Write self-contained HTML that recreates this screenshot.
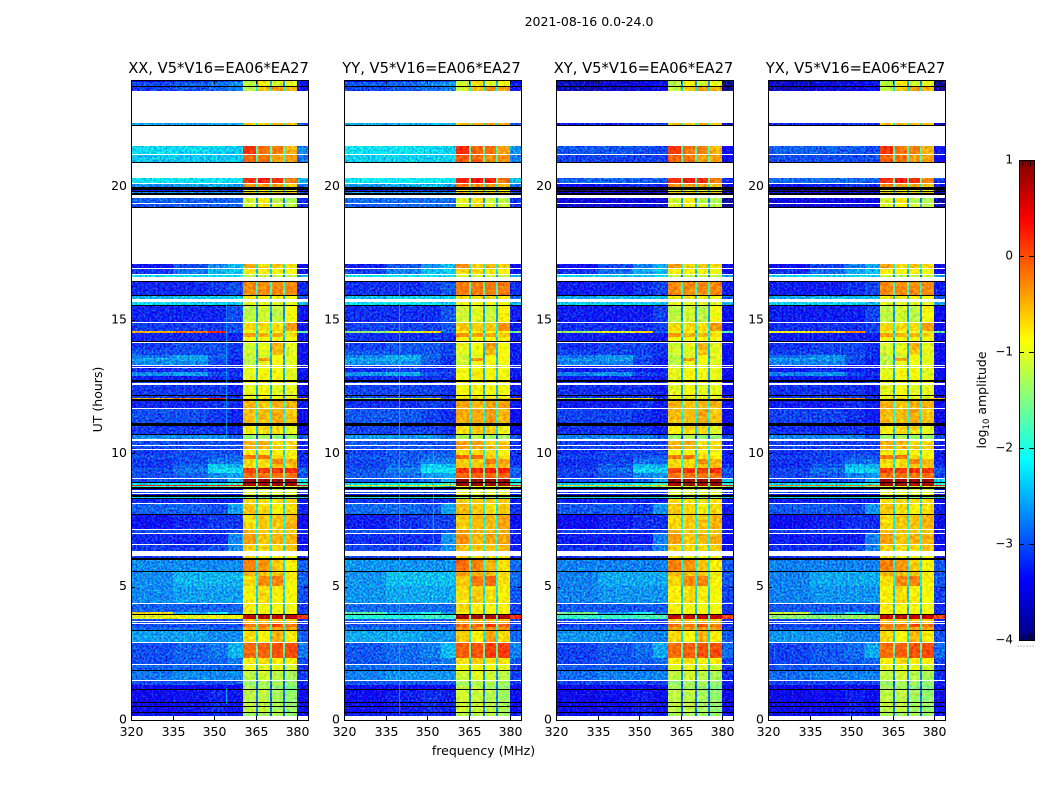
<!DOCTYPE html>
<html lang="en">
<head>
<meta charset="utf-8">
<title>2021-08-16 0.0-24.0</title>
<style>
html,body{margin:0;padding:0;background:#fff}
svg{display:block}
text{font-family:"DejaVu Sans","Liberation Sans",sans-serif;fill:#000}
</style>
</head>
<body>
<svg id="chart" xmlns="http://www.w3.org/2000/svg" width="1050" height="800" viewBox="0 0 1050 800">
  <rect x="0" y="0" width="1050" height="800" fill="#fff"/>
  <text x="589" y="26" font-size="12.5" text-anchor="middle">2021-08-16 0.0-24.0</text>
  <text x="483.5" y="755" font-size="12.5" text-anchor="middle">frequency (MHz)</text>
  <text x="102" y="399.5" font-size="12.5" text-anchor="middle" transform="rotate(-90 102 399.5)">UT (hours)</text>
  <text x="986" y="400" font-size="12.5" text-anchor="middle" transform="rotate(-90 986 400)">log<tspan font-size="8.5" dy="3">10</tspan><tspan dy="-3"> amplitude</tspan></text>
</svg>
<script>
// Panel names and per-panel level adjustments
const panelNames = ["XX", "YY", "XY", "YX"];
const panelLowOffset = [0, 0.05, -0.05, -0.05];
const panelBandOffset = [0, 0.08, 0, 0];
const panelLateLowOffset = [0, 0, -0.6, -0.55];
const panelBrightOffset = [0, -1, -0.8, -0.4];
// Frequency column edges in MHz; gap columns fall between sub-bands
const freqEdges = [320, 335, 348, 355, 360.5, 365.2, 365.8, 370.2, 370.8, 375, 375.6, 380, 384];
const xTicks = [320, 335, 350, 365, 380];
const yTicks = [0, 5, 10, 15, 20];
const colorTicks = [1, 0, -1, -2, -3, -4];
// Narrow interference stripes: panel, MHz, hour from, hour to, log amplitude
const rfiPanel = [0, 0, 1, 1, 1];
const rfiFreq = [354.2, 354.2, 340, 352, 340];
const rfiFrom = [10.4, 0.6, 0.2, 6.6, 10.4];
const rfiTo = [15.6, 1.2, 16.4, 10.2, 15.4];
const rfiValue = [-2.4, -2.2, -2.4, -2.4, -2.5];
// Rows: top hour, then log10 amplitude in columns
// [320-335, 335-348, 348-355, 355-360.5, sb1, sb2, sb3, sb4, 380-384]
// ["K"] marks a black flagged row, and a row with no values is blank.
const heatRows = [
[24.00,-3.4,-3.2,-3.1,-3.0,-1.3,-0.8,-1.1,-1.0,-3.4],
[23.92,-3.0,-2.9,-2.8,-2.7,-1.2,-0.8,-1.1,-1.0,-3.3],
[23.79,"K"],
[23.76,-3.1,-3.0,-2.9,-2.8,-1.2,-0.6,-0.4,-0.5,-3.3],
[23.57],
[22.39,-2.6,-2.6,-2.5,-2.5,-0.6,-0.6,-0.5,-0.6,-3.0],
[22.31,"K"],
[22.28],
[21.53,-2.3,-2.3,-2.35,-2.4,0.1,-0.2,-0.25,-0.5,-2.7],
[21.22],
[21.19,-2.4,-2.4,-2.4,-2.4,-0.1,-0.2,-0.4,-0.4,-2.8],
[20.91,"K"],
[20.87],
[20.33,-2.25,-2.25,-2.25,-2.3,0.15,0.25,0.15,-0.25,-2.5],
[20.14],
[20.10,-2.7,-2.6,-2.5,-2.6,-0.3,-0.4,-0.4,-0.6,-2.9],
[19.99,"K"],
[19.88,-3.3,-3.2,-3.2,-3.2,-1.0,-1.0,-1.0,-1.0,-3.4],
[19.84,"K"],
[19.80,-2.7,-2.7,-2.7,-2.7,-0.6,-0.6,-0.6,-0.6,-3.0],
[19.76,"K"],
[19.67],
[19.56,-2.9,-2.9,-2.9,-2.9,-1.1,-0.8,-1.2,-1.3,-3.2],
[19.39],
[19.35,-3.0,-2.9,-2.9,-2.9,-1.1,-0.8,-1.1,-1.2,-3.2],
[19.24,"K"],
[19.20],
[17.10,-3.3,-3.0,-2.7,-2.5,-0.4,-0.7,-0.6,-0.7,-3.4],
[16.95],
[16.91,-3.1,-2.8,-2.5,-2.4,-0.8,-0.8,-0.8,-0.9,-3.3],
[16.71],
[16.67,-2.3,-2.3,-2.3,-2.3,-1.2,-1.2,-1.2,-1.2,-2.6],
[16.61],
[16.46,"K"],
[16.41,-3.2,-3.2,-3.1,-3.0,-0.3,-0.3,-0.3,-0.3,-3.2],
[15.94,"K"],
[15.90,-2.5,-2.4,-2.4,-2.4,-0.8,-0.8,-0.8,-0.9,-2.9],
[15.77],
[15.66,-2.3,-2.3,-2.3,-2.4,-1.0,-1.0,-1.0,-1.0,-2.5],
[15.58,"K"],
[15.54,-3.2,-3.2,-3.2,-3.0,-1.2,-1.1,-1.2,-0.9,-3.3],
[14.91],
[14.87,-3.1,-3.1,-3.1,-3.0,-0.7,-0.7,-0.7,-0.4,-3.3],
[14.59,-0.5,-0.2,0.2,-2.9,-1.0,-1.0,-1.0,-1.0,-1.6],
[14.51,-3.2,-3.2,-3.2,-3.2,-0.4,-0.5,-0.5,-0.7,-3.3],
[14.36,-3.2,-3.2,-3.2,-3.2,-0.9,-0.9,-0.9,-0.9,-3.3],
[14.23,"K"],
[14.19],
[14.16,-3.1,-3.0,-3.0,-3.1,-1.1,-1.0,-0.5,-1.0,-3.3],
[13.88,-3.0,-3.0,-3.0,-3.1,-1.1,-1.0,-0.6,-1.0,-3.3],
[13.69,-2.8,-2.6,-2.9,-3.1,-1.2,-1.1,-0.9,-1.0,-3.3],
[13.57,-2.6,-2.6,-3.0,-3.2,-1.2,-0.4,-0.9,-1.0,-3.3],
[13.46,-2.7,-2.7,-3.0,-3.2,-1.2,-1.0,-0.9,-1.0,-3.3],
[13.33],
[13.29,-3.2,-3.2,-3.2,-3.2,-1.0,-1.0,-1.0,-1.0,-3.3],
[13.25],
[13.22,-3.2,-3.1,-3.2,-3.2,-1.0,-0.9,-0.9,-1.0,-3.3],
[13.05,-2.7,-2.6,-3.0,-3.1,-1.0,-0.8,-0.9,-1.0,-3.3],
[12.90,-3.2,-3.2,-3.2,-3.2,-1.0,-0.9,-0.9,-1.0,-3.4],
[12.75,"K"],
[12.69,-3.1,-3.1,-3.1,-3.1,-0.9,-0.9,-0.9,-0.9,-3.3],
[12.62],
[12.58,-3.1,-3.1,-3.1,-3.2,-1.0,-0.9,-1.0,-1.0,-3.3],
[12.19,"K"],
[12.15,-3.1,-3.1,-3.1,-3.2,-1.0,-0.9,-1.0,-1.0,-3.3],
[12.09,-0.5,-0.2,0.2,-2.9,-0.7,-0.7,-0.7,-0.7,-0.5],
[12.04,"K"],
[11.98,-3.2,-3.2,-3.1,-3.2,-0.5,-0.6,-0.5,-0.5,-3.3],
[11.70],
[11.66,-3.0,-3.0,-3.1,-3.2,-0.55,-0.55,-0.45,-0.6,-3.4],
[11.14,"K"],
[11.04,-3.1,-3.1,-3.1,-3.2,-0.8,-0.7,-0.7,-1.0,-3.4],
[10.73,"K"],
[10.67,-2.7,-2.7,-2.7,-2.9,-1.4,-1.3,-1.4,-1.4,-3.0],
[10.52],
[10.47,-3.0,-3.0,-3.0,-3.0,-0.5,-0.5,-0.7,-0.7,-3.2],
[10.31],
[10.28,-3.0,-3.0,-3.0,-3.0,-0.5,-0.5,-0.6,-0.6,-3.2],
[10.17],
[10.14,-3.1,-3.0,-3.0,-3.0,-0.8,-0.8,-0.8,-0.9,-3.2],
[9.94,-3.0,-3.0,-2.9,-2.9,-0.2,-0.2,-0.7,-0.8,-3.2],
[9.79,-3.1,-3.0,-2.8,-2.8,-0.7,-0.7,-0.3,-0.5,-3.2],
[9.60,-3.1,-2.9,-2.4,-2.5,-0.7,-0.7,-0.6,-0.6,-3.1],
[9.45,-3.0,-2.8,-2.3,-2.3,0.05,0.1,0.15,0.15,-2.9],
[9.26,-3.0,-2.9,-2.7,-2.6,-0.2,-0.2,-0.2,-0.2,-3.0],
[9.06],
[9.02,-3.0,-3.0,-2.9,-2.5,0.85,0.85,0.85,0.85,-2.3],
[8.94,"K"],
[8.91,-2.3,-2.2,-2.1,-1.8,0.8,0.8,0.8,0.8,-1.9],
[8.83,0.2,0.25,0.25,0.2,0.9,0.9,0.9,0.9,0.3],
[8.78,-2.0,-2.0,-1.8,-1.5,-1.0,-1.0,-1.0,-1.0,-1.5],
[8.72,"K"],
[8.68,-3.4,-3.4,-3.4,-3.4,-1.2,-1.2,-1.2,-1.2,-3.4],
[8.63],
[8.55,-3.0,-3.0,-3.0,-3.0,-1.0,-1.0,-1.0,-1.0,-3.0],
[8.51],
[8.48,-3.3,-3.3,-3.3,-3.3,-1.0,-1.0,-1.0,-1.0,-3.3],
[8.42,"K"],
[8.38,-2.3,-2.3,-2.3,-2.3,-1.5,-1.5,-1.5,-1.5,-2.4],
[8.33,"K"],
[8.27,-3.2,-3.2,-3.2,-3.2,-0.7,-0.7,-0.7,-0.7,-3.3],
[8.14],
[8.10,-2.9,-2.9,-3.0,-2.6,-0.6,-0.7,-0.8,-0.7,-3.2],
[7.73,"K"],
[7.69,-3.3,-3.2,-3.1,-3.1,-0.7,-0.6,-0.6,-0.5,-3.4],
[7.15],
[7.11,-3.0,-3.0,-3.1,-3.0,-0.5,-0.6,-0.6,-0.6,-3.2],
[7.01],
[6.98,-3.2,-3.2,-3.2,-2.7,-0.4,-0.6,-0.5,-0.5,-3.3],
[6.60],
[6.56,-3.1,-3.1,-3.0,-2.7,-0.65,-0.7,-0.7,-0.6,-3.3],
[6.34],
[6.15,-3.1,-3.1,-3.1,-3.1,-0.7,-0.8,-0.8,-0.9,-3.2],
[6.06,"K"],
[6.00,-2.7,-2.7,-2.7,-2.7,-0.25,-0.35,-0.6,-0.8,-2.9],
[5.59,"K"],
[5.55,-2.7,-2.5,-2.5,-2.5,-0.5,-0.55,-0.6,-0.8,-2.9],
[5.40,-2.7,-2.5,-2.5,-2.5,-0.7,-0.3,-0.25,-0.8,-2.9],
[5.02,-2.7,-2.6,-2.6,-2.6,-0.8,-0.7,-0.8,-0.9,-3.0],
[4.37],
[4.34,-2.9,-2.9,-2.9,-2.9,-0.8,-0.9,-0.9,-0.9,-3.1],
[4.05,-0.7,-2.5,-2.0,-2.7,-0.9,-0.9,-0.9,-0.9,-3.1],
[3.99,-3.0,-3.0,-3.0,-3.0,-0.9,-0.9,-0.9,-0.9,-3.1],
[3.96,"K"],
[3.92,-1.0,-1.0,-0.9,-0.9,0.7,0.7,0.7,0.7,0.1],
[3.79,-3.0,-3.0,-3.0,-3.0,-0.6,-0.6,-0.6,-0.6,-3.1],
[3.73],
[3.69,-3.0,-3.0,-3.0,-3.0,-0.6,-0.6,-0.5,-0.6,-3.1],
[3.62],
[3.59,-3.0,-3.0,-3.0,-3.0,-0.2,-0.2,0.0,-0.2,-3.1],
[3.49,-2.9,-2.9,-2.9,-2.9,-0.4,-0.4,-0.4,-0.4,-3.1],
[3.39,"K"],
[3.36,-2.6,-2.6,-2.7,-2.7,-0.7,-0.9,-0.5,-0.8,-2.9],
[2.93],
[2.89,-3.0,-2.9,-2.8,-2.5,-0.15,-0.1,0.0,0.0,-2.8],
[2.33,-3.0,-2.9,-2.9,-2.8,-0.8,-0.7,-0.8,-0.8,-3.0],
[2.10],
[2.06,-2.9,-2.9,-2.9,-2.9,-1.0,-1.0,-1.0,-1.1,-3.1],
[1.88,"K"],
[1.84,-2.8,-2.7,-2.7,-2.7,-1.2,-1.1,-1.2,-1.3,-3.1],
[1.49],
[1.45,-3.0,-3.0,-3.0,-3.0,-1.4,-1.3,-1.3,-1.4,-3.2],
[1.31,-3.4,-3.4,-3.4,-3.4,-1.3,-1.3,-1.4,-1.5,-3.4],
[1.16,"K"],
[1.13,-3.4,-3.3,-3.2,-3.3,-1.2,-1.2,-1.3,-1.4,-3.4],
[0.69,"K"],
[0.66,-3.4,-3.3,-3.2,-3.3,-1.2,-1.2,-1.3,-1.4,-3.4],
[0.54,"K"],
[0.51,-3.4,-3.3,-3.2,-3.3,-1.2,-1.2,-1.3,-1.4,-3.4],
[0.30,"K"],
[0.26,-3.3,-3.3,-3.2,-3.3,-1.3,-1.3,-1.3,-1.4,-3.3],
[0.15]
];

// Layout (not data)
const SVGNS = "http://www.w3.org/2000/svg";
const svg = document.getElementById("chart");
const panelLeft = [131, 344, 556, 768];
const plotWidth = 177, plotTop = 80, plotBottom = 720;
const cbLeft = 1019, cbRight = 1034, cbTop = 160, cbBottom = 640;

const xScale = (left, mhz) => left + (mhz - 320) * (166 / 60);
const yScale = hours => plotBottom - hours * (plotBottom - plotTop) / 24;
const cbScale = v => cbBottom - (v + 4) * (cbBottom - cbTop) / 5;

function jet(v) {
  const t = Math.max(0, Math.min(1, (v + 4) / 5));
  const ch = x => Math.round(255 * Math.max(0, Math.min(1, 1.5 - Math.abs(4 * t - x))));
  return "rgb(" + ch(3) + "," + ch(2) + "," + ch(1) + ")";
}
function make(tag, attrs, parent) {
  const el = document.createElementNS(SVGNS, tag);
  for (const k in attrs) el.setAttribute(k, attrs[k]);
  parent.appendChild(el);
  return el;
}
function columnValue(row, c) {
  const vals = row.slice(1);
  const bandMean = (vals[4] + vals[5] + vals[6] + vals[7]) / 4;
  const gap = Math.min(bandMean - 1.55, -1.7);
  const map = [vals[0], vals[1], vals[2], vals[3], vals[4], gap, vals[5], gap, vals[6], gap, vals[7], vals[8]];
  return map[c];
}
function grainFilter(id, left, freq, amp, seed) {
  const filter = make("filter", {
    id: id, filterUnits: "userSpaceOnUse",
    x: left, y: plotTop, width: plotWidth, height: plotBottom - plotTop,
    "color-interpolation-filters": "sRGB"
  }, defs);
  make("feTurbulence", { type: "fractalNoise", baseFrequency: freq, numOctaves: "2", seed: String(seed), result: "noise" }, filter);
  make("feColorMatrix", { in: "noise", type: "matrix", values: "2 0 0 0 -0.5 0 2 0 0 -0.5 0 0 2 0 -0.5 0 0 0 0 1", result: "grain" }, filter);
  make("feComposite", { in: "SourceGraphic", in2: "grain", operator: "arithmetic", k1: 0, k2: 1, k3: amp, k4: -amp / 2, result: "mixed" }, filter);
  make("feComposite", { in: "mixed", in2: "SourceGraphic", operator: "in" }, filter);
}

const defs = make("defs", {}, svg);

panelNames.forEach((name, p) => {
  const left = panelLeft[p];
  const panel = make("g", {}, svg);
  
  

  grainFilter("speckle-low-" + p, left, "0.5", 0.55, 11 + p * 7);
  grainFilter("speckle-band-" + p, left, "0.3", 0.3, 5 + p * 3);

  const lowCells = make("g", { filter: "url(#speckle-low-" + p + ")", "shape-rendering": "crispEdges" }, panel);
  
  
  const bandCells = make("g", { filter: "url(#speckle-band-" + p + ")", "shape-rendering": "crispEdges" }, panel);
  
  
  const flags = make("g", { "shape-rendering": "crispEdges" }, panel);
  
  

  heatRows.forEach((row, r) => {
    const top = yScale(row[0]);
    const bottom = r + 1 < heatRows.length ? yScale(heatRows[r + 1][0]) : plotBottom;
    if (row.length === 1) return;
    const y0 = Math.round(top), h = Math.max(1, Math.round(bottom) - y0);
    if (row[1] === "K") {
      const bar = make("rect", { x: left, y: y0, width: plotWidth, height: h, fill: "#000" }, flags);
      
      
      return;
    }
    for (let c = 0; c < freqEdges.length - 1; c++) {
      const isLow = c < 4 || c === 11;
      let v = columnValue(row, c);
      if (isLow) {
        v += panelLowOffset[p];
        if (row[0] > 19) v += panelLateLowOffset[p];
        if (v > -1.5 && c < 4) v += panelBrightOffset[p];
      } else {
        v += panelBandOffset[p];
      }
      const x0 = Math.round(xScale(left, freqEdges[c]));
      const x1 = Math.min(left + plotWidth, Math.round(xScale(left, freqEdges[c + 1])));
      const cell = make("rect", { x: x0, y: y0, width: x1 - x0, height: h, fill: jet(v) }, isLow ? lowCells : bandCells);
      
      
    }
  });

  rfiPanel.forEach((owner, i) => {
    if (owner !== p) return;
    const y0 = yScale(rfiTo[i]), y1 = yScale(rfiFrom[i]);
    const stripe = make("rect", { x: Math.round(xScale(left, rfiFreq[i])), y: y0, width: 1, height: y1 - y0, fill: jet(rfiValue[i]), opacity: 0.6 }, panel);
    
    
  });

  // redraw white data gaps over stripes
  heatRows.forEach((row, r) => {
    if (row.length !== 1) return;
    const y0 = Math.round(yScale(row[0]));
    const y1 = r + 1 < heatRows.length ? Math.round(yScale(heatRows[r + 1][0])) : plotBottom;
    const blank = make("rect", { x: left, y: y0, width: plotWidth, height: Math.max(1, y1 - y0), fill: "#fff", "shape-rendering": "crispEdges" }, panel);
    
    
  });

  const frame = make("rect", { x: left + 0.5, y: plotTop + 0.5, width: plotWidth, height: plotBottom - plotTop, fill: "none", stroke: "#000", "stroke-width": 1 }, panel);
  
  

  const title = make("text", { x: left + plotWidth / 2 - 1, y: 73, "font-size": 14.7, "text-anchor": "middle" }, panel);
  title.textContent = name + ", V5*V16=EA06*EA27";
  
  

  xTicks.forEach(f => {
    const x = Math.round(xScale(left, f)) + 0.5;
    const tick = make("path", { d: "M" + x + " " + plotBottom + "v-4M" + x + " " + plotTop + "v4", stroke: "#000", "stroke-width": 1, fill: "none" }, panel);
    
    
    const label = make("text", { x: x, y: 736, "font-size": 12.5, "text-anchor": "middle" }, panel);
    label.textContent = String(f);
    
    
  });
  yTicks.forEach(hv => {
    const y = Math.round(yScale(hv)) + 0.5;
    const tick = make("path", { d: "M" + left + " " + y + "h4M" + (left + plotWidth) + " " + y + "h-4", stroke: "#000", "stroke-width": 1, fill: "none" }, panel);
    
    
    const label = make("text", { x: left - 4, y: yScale(hv) + 3.5, "font-size": 12.5, "text-anchor": "end" }, panel);
    label.textContent = String(hv);
    
    
  });
});

// Colorbar drawn from the same colour map
const cb = make("g", {}, svg);


const cbGrad = make("linearGradient", { id: "jet-ramp", x1: 0, y1: 1, x2: 0, y2: 0 }, defs);
for (let i = 0; i <= 40; i++) {
  make("stop", { offset: i / 40, "stop-color": jet(-4 + (5 * i) / 40) }, cbGrad);
}
const cbRamp = make("rect", { x: cbLeft, y: cbTop, width: cbRight - cbLeft, height: cbBottom - cbTop, fill: "url(#jet-ramp)" }, cb);


const cbFrame = make("rect", { x: cbLeft + 0.5, y: cbTop + 0.5, width: cbRight - cbLeft, height: cbBottom - cbTop, fill: "none", stroke: "#000" }, cb);


colorTicks.forEach(v => {
  const y = Math.round(cbScale(v)) + 0.5;
  const tick = make("path", { d: "M" + cbLeft + " " + y + "h5M" + cbRight + " " + y + "h-5", stroke: "#000", fill: "none" }, cb);
  
  
  const label = make("text", { x: 1013, y: y + 3, "font-size": 12, "text-anchor": "end" }, cb);
  label.textContent = (v < 0 ? "\u2212" : "") + Math.abs(v);
  
  
});
[1023, 1025.5, 1028, 1030.5].forEach(x => {
  const minor = make("path", { d: "M" + x + " " + cbTop + "v6M" + x + " " + cbBottom + "v-6", stroke: "#000", "stroke-width": 0.8, fill: "none" }, cb);
  
  
});
const cbDots = make("path", { d: "M1017.5 646H1035", stroke: "#777", "stroke-width": 1, "stroke-dasharray": "1 2", fill: "none" }, cb);


</script>
</body>
</html>
